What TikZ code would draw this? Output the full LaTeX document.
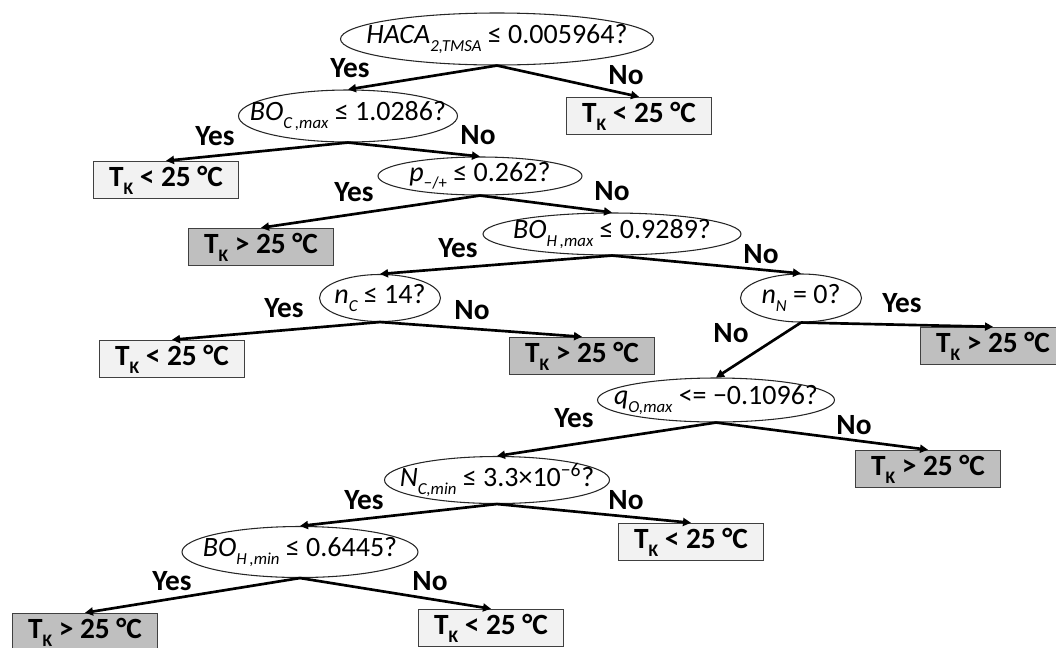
\documentclass[tikz,border=0pt]{standalone}
\usepackage{fontspec}
\setmainfont{Carlito}
\usetikzlibrary{arrows.meta,shapes.geometric}
\definecolor{coolfill}{RGB}{242,242,242}
\definecolor{warmfill}{RGB}{191,191,191}
\definecolor{edgegray}{RGB}{64,64,64}

% lowered, shrunk subscript as in the equation editor
\newcommand{\lsub}[1]{\raisebox{-0.55ex}{\scalebox{0.6}{#1}}}
\newcommand{\tk}{T\lsub{K}}

\begin{document}
\begin{tikzpicture}[x=0.75pt, y=-0.75pt,
		dims/.style 2 args={minimum width=#1*0.75pt, minimum height=#2*0.75pt},
		% the ellipse keeps its own size, the question sits on top of it
		test/.style={ellipse, draw=black!85, line width=0.8pt, inner sep=0pt,
		             label={[font=\fontsize{21}{24}\selectfont, inner sep=0pt]center:#1}},
		leaf/.style={draw=edgegray, line width=1.1pt, dims={145}{37}, inner sep=0pt,
		             font=\fontsize{22}{24}\selectfont\bfseries},
		cool/.style={leaf, fill=coolfill},
		warm/.style={leaf, fill=warmfill},
		answer/.style={font=\fontsize{22}{24}\selectfont\bfseries},
		branch/.style={-{Triangle[length=6pt,width=6pt]}, line width=2pt}]
		\useasboundingbox (0,0) rectangle (1056,647);
		\clip (0,0) rectangle (1056,647);
		% split tests
		\node[test={\itshape HACA\lsub{2,TMSA} \upshape≤ 0.005964?},
			dims={313}{52}] (haca) at (497,39) {};
		\node[test={\itshape BO\lsub{C\,,max} \upshape≤ 1.0286?},
			dims={219}{52}] (boc) at (348,116) {};
		\node[test={\itshape p\lsub{\upshape−/+} \upshape≤ 0.262?},
			dims={204}{38}] (pmp) at (480,176) {};
		\node[test={\itshape BO\lsub{H\,,max} \upshape≤ 0.9289?},
			dims={258}{42}] (bohmax) at (612,234) {};
		\node[test={\itshape n\lsub{C} \upshape≤ 14?},
			dims={121}{47}] (nc) at (380,298) {};
		\node[test={\itshape n\lsub{N} \upshape= 0?},
			dims={121}{48}] (nn) at (801,298) {};
		\node[test={\itshape q\lsub{O,max} \upshape<= −0.1096?},
			dims={237}{44}] (qo) at (716,400) {};
		\node[test={\itshape N\lsub{C,min} \upshape≤ 3.3×10\textsuperscript{−6}?},
			dims={225}{47}] (ncmin) at (497,480) {};
		\node[test={\itshape BO\lsub{H\,,min} \upshape≤ 0.6445?},
			dims={236}{51}] (bohmin) at (300,552) {};
		% leaves
		\node[cool] (l1) at (639,116) {\tk{} < 25 °C};
		\node[cool] (l2) at (166,180) {\tk{} < 25 °C};
		\node[warm] (l3) at (261,247) {\tk{} > 25 °C};
		\node[cool] (l4) at (172,359) {\tk{} < 25 °C};
		\node[warm] (l5) at (582,356) {\tk{} > 25 °C};
		\node[warm] (l6) at (993,346) {\tk{} > 25 °C};
		\node[warm] (l7) at (928,469) {\tk{} > 25 °C};
		\node[cool] (l8) at (691,542) {\tk{} < 25 °C};
		\node[warm] (l9) at (85,632) {\tk{} > 25 °C};
		\node[cool] (l10) at (491,628) {\tk{} < 25 °C};
		% branches
		\draw[branch] (haca.south) -- (boc.north);
		\draw[branch] (haca.south) -- (l1.north);
		\draw[branch] (boc.south) -- (l2.north);
		\draw[branch] (boc.south) -- (pmp.north);
		\draw[branch] (pmp.south) -- (l3.north);
		\draw[branch] (pmp.south) -- (bohmax.north);
		\draw[branch] (bohmax.south) -- (nc.north);
		\draw[branch] (bohmax.south) -- (nn.north);
		\draw[branch] (nc.south) -- (l4.north);
		\draw[branch] (nc.south) -- (l5.north);
		\draw[branch] (nn.south) -- (l6.north);
		\draw[branch] (nn.south) -- (qo.north);
		\draw[branch] (qo.south) -- (ncmin.north);
		\draw[branch] (qo.south) -- (l7.north);
		\draw[branch] (ncmin.south) -- (bohmin.north);
		\draw[branch] (ncmin.south) -- (l8.north);
		\draw[branch] (bohmin.south) -- (l9.north);
		\draw[branch] (bohmin.south) -- (l10.north);
		% yes / no answers
		\node[answer] (y1) at (350,68) {Yes};
		\node[answer] (n1) at (626,75) {No};
		\node[answer] (y2) at (215,136) {Yes};
		\node[answer] (n2) at (478,135) {No};
		\node[answer] (y3) at (354,192) {Yes};
		\node[answer] (n3) at (612,191) {No};
		\node[answer] (y4) at (458,248) {Yes};
		\node[answer] (n4) at (761,254) {No};
		\node[answer] (y5) at (284,308) {Yes};
		\node[answer] (n5) at (472,310) {No};
		\node[answer] (y6) at (902,303) {Yes};
		\node[answer] (n6) at (731,333) {No};
		\node[answer] (y7) at (574,418) {Yes};
		\node[answer] (n7) at (854,425) {No};
		\node[answer] (y8) at (364,500) {Yes};
		\node[answer] (n8) at (626,500) {No};
		\node[answer] (y9) at (172,581) {Yes};
		\node[answer] (n9) at (430,581) {No};
\end{tikzpicture}
\end{document}
